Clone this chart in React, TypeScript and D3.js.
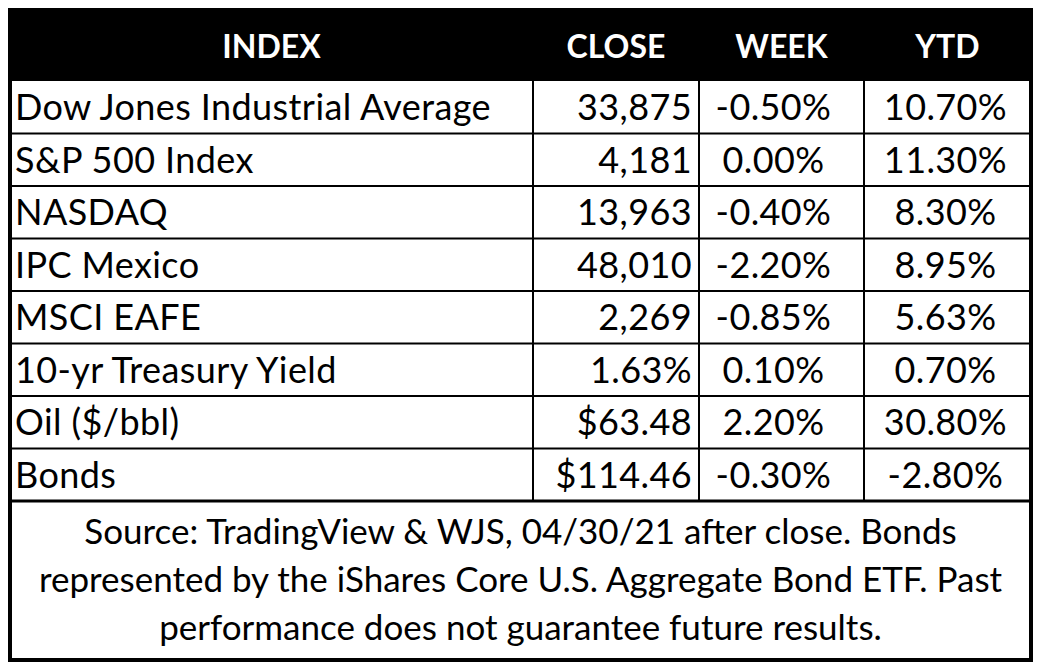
import React from 'react';
import * as d3 from 'd3';

const headers = ['INDEX', 'CLOSE', 'WEEK', 'YTD'];
const indexNames = [
  'Dow Jones Industrial Average',
  'S&P 500 Index',
  'NASDAQ',
  'IPC Mexico',
  'MSCI EAFE',
  '10-yr Treasury Yield',
  'Oil ($/bbl)',
  'Bonds',
];
const closeValues = ['33,875', '4,181', '13,963', '48,010', '2,269', '1.63%', '$63.48', '$114.46'];
const weekValues = ['-0.50%', '0.00%', '-0.40%', '-2.20%', '-0.85%', '0.10%', '2.20%', '-0.30%'];
const ytdValues = ['10.70%', '11.30%', '8.30%', '8.95%', '5.63%', '0.70%', '30.80%', '-2.80%'];
const footerLines = [
  'Source: TradingView & WJS, 04/30/21 after close. Bonds',
  'represented by the iShares Core U.S. Aggregate Bond ETF. Past',
  'performance does not guarantee future results.',
];

const W = 1040;
const H = 670;
const left = 10;
const right = 1031;
const top = 10;
const headerBottom = 81;
const rowsBottom = 501;
const bottom = 660;
// column divider x positions
const colEdges = [left, 533, 699, 864, right];
const font = 'Lato, "Noto Sans", sans-serif';

const App = () => {
  const y = d3.scaleBand<string>().domain(indexNames).range([headerBottom, rowsBottom]);
  const rows = indexNames.map((name, i) => ({
    name,
    close: closeValues[i],
    week: weekValues[i],
    ytd: ytdValues[i],
  }));
  const colCenter = (i: number) => (colEdges[i] + colEdges[i + 1]) / 2;

  return (
    <svg width={W} height={H} style={{ position: 'absolute', left: 0, top: 0, background: '#fff' }}>
      {/* header band */}
      <rect x={left} y={top} width={right - left} height={headerBottom - top} fill="#000" />
      {headers.map((h, i) => (
        <text
          key={h}
          x={colCenter(i)}
          y={58}
          fill="#fff"
          fontFamily={font}
          fontWeight="bold"
          fontSize={32}
          textAnchor="middle"
        >
          {h}
        </text>
      ))}

      {/* rows */}
      {rows.map((r) => {
        const yy = (y(r.name) as number) + y.bandwidth() / 2;
        return (
          <g key={r.name} fontFamily={font} fontSize={36} fill="#000" letterSpacing={0.4}>
            <text x={15} y={yy} dy="0.36em">{r.name}</text>
            <text x={colEdges[2] - 7} y={yy} dy="0.36em" textAnchor="end">{r.close}</text>
            <text x={colCenter(2) - 8} y={yy} dy="0.36em" textAnchor="middle">{r.week}</text>
            <text x={colCenter(3) - 2} y={yy} dy="0.36em" textAnchor="middle">{r.ytd}</text>
          </g>
        );
      })}

      {/* horizontal row lines */}
      {indexNames.slice(1).map((name) => (
        <line
          key={'h' + name}
          x1={left}
          x2={right}
          y1={y(name) as number}
          y2={y(name) as number}
          stroke="#000"
          strokeWidth={2}
        />
      ))}
      <line x1={left} x2={right} y1={rowsBottom} y2={rowsBottom} stroke="#000" strokeWidth={3} />

      {/* vertical column lines */}
      {colEdges.slice(1, 4).map((cx) => (
        <line key={'v' + cx} x1={cx} x2={cx} y1={headerBottom} y2={rowsBottom} stroke="#000" strokeWidth={2} />
      ))}

      {/* footer */}
      {footerLines.map((t, i) => (
        <text
          key={i}
          x={(left + right) / 2}
          y={544 + i * 48}
          fontFamily={font}
          fontSize={35}
          textAnchor="middle"
          fill="#000"
        >
          {t}
        </text>
      ))}

      {/* outer border */}
      <rect
        x={left}
        y={top}
        width={right - left}
        height={bottom - top}
        fill="none"
        stroke="#000"
        strokeWidth={4}
      />
    </svg>
  );
};

export default App;
